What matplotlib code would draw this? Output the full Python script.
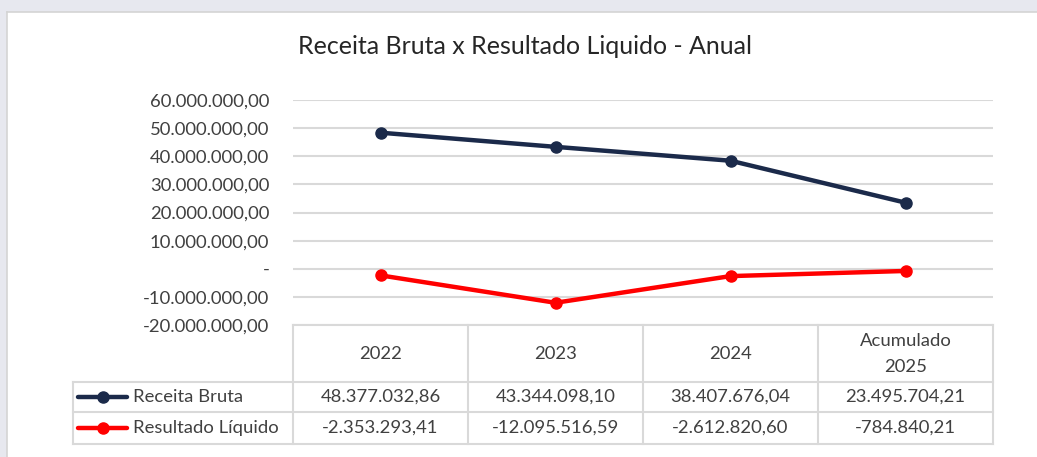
import matplotlib
matplotlib.use("Agg")
import matplotlib.pyplot as plt
from matplotlib.ticker import FuncFormatter, MultipleLocator
from matplotlib.patches import Rectangle
from matplotlib.lines import Line2D

# data
categories = ["2022", "2023", "2024", "Acumulado\n2025"]
receita_bruta = [48377032.86, 43344098.10, 38407676.04, 23495704.21]
resultado_liquido = [-2353293.41, -12095516.59, -2612820.60, -784840.21]
series_names = ["Receita Bruta", "Resultado Líquido"]

navy = "#1B2A4A"
red = "#FF0000"
grid_c = "#D9D9D9"
txt_c = "#404040"
fs = 13.3

plt.rcParams["font.family"] = ["Lato", "DejaVu Sans"]

W, H = 1037, 457
fig = plt.figure(figsize=(W / 100, H / 100), dpi=100)
fig.patch.set_facecolor("white")

# grey frame like the screenshot
fig.add_artist(Rectangle((0, 1 - 12 / H), 1, 12 / H, transform=fig.transFigure,
                         facecolor="#E7E8EF", edgecolor="none", zorder=0))
fig.add_artist(Rectangle((0, 0), 7 / W, 1, transform=fig.transFigure,
                         facecolor="#E7E8EF", edgecolor="none", zorder=0))
fig.add_artist(Line2D([7 / W, 1], [1 - 12 / H] * 2, transform=fig.transFigure,
                      color="#D4D4D4", lw=1.2))
fig.add_artist(Line2D([7 / W] * 2, [0, 1 - 12 / H], transform=fig.transFigure,
                      color="#D4D4D4", lw=1.2))


def fmt_br(v, pos=None):
    if abs(v) < 1e-6:
        return "-"
    s = f"{v:,.2f}"
    return s.replace(",", "X").replace(".", ",").replace("X", ".")


# main chart
x0, x1 = 293, 993
ax = fig.add_axes([x0 / W, 1 - 325 / H, (x1 - x0) / W, (325 - 100) / H])
xs = list(range(len(categories)))
ax.plot(xs, receita_bruta, color=navy, lw=3.2, marker="o", ms=8, zorder=3)
ax.plot(xs, resultado_liquido, color=red, lw=3.2, marker="o", ms=8, zorder=3)
ax.set_xlim(-0.5, len(categories) - 0.5)
ax.set_ylim(-20e6, 60e6)
ax.yaxis.set_major_locator(MultipleLocator(10e6))
ax.yaxis.set_major_formatter(FuncFormatter(fmt_br))
ax.grid(axis="y", color=grid_c, lw=1.5)
ax.set_axisbelow(True)
for sp in ax.spines.values():
    sp.set_visible(False)
ax.set_xticks([])
ax.tick_params(axis="y", length=0, pad=17, labelsize=fs, labelcolor=txt_c)

fig.text(525 / W, 1 - 47 / H, "Receita Bruta x Resultado Liquido - Anual",
         ha="center", va="center", fontsize=18, color="#262626")

# data table
tb = fig.add_axes([0, 0, 1, 1], facecolor="none")
tb.set_xlim(0, W)
tb.set_ylim(H, 0)
tb.axis("off")

col_edges = [293, 468, 643, 818, 993]
row_edges = [325, 382, 412, 444]
lx = 73

for xe in col_edges:
    tb.plot([xe, xe], [row_edges[0], row_edges[-1]], color=grid_c, lw=1.5)
tb.plot([lx, lx], [row_edges[1], row_edges[-1]], color=grid_c, lw=1.5)
tb.plot([col_edges[0], col_edges[-1]], [row_edges[0]] * 2, color=grid_c, lw=1.5)
for ye in row_edges[1:]:
    tb.plot([lx, col_edges[-1]], [ye, ye], color=grid_c, lw=1.5)

for i, cat in enumerate(categories):
    cx = (col_edges[i] + col_edges[i + 1]) / 2
    tb.text(cx, (row_edges[0] + row_edges[1]) / 2 + 0.5, cat, ha="center", va="center",
            fontsize=fs, color=txt_c, linespacing=1.75)

rows = [receita_bruta, resultado_liquido]
colors = [navy, red]
for r, (vals, name, c) in enumerate(zip(rows, series_names, colors)):
    cy = (row_edges[r + 1] + row_edges[r + 2]) / 2
    tb.plot([78, 127], [cy, cy], color=c, lw=3.2, solid_capstyle="round")
    tb.plot([103], [cy], marker="o", color=c, ms=8)
    tb.text(133, cy, name, ha="left", va="center", fontsize=fs, color=txt_c)
    for i, v in enumerate(vals):
        cx = (col_edges[i] + col_edges[i + 1]) / 2
        tb.text(cx, cy, fmt_br(v), ha="center", va="center", fontsize=fs, color=txt_c)

fig.savefig("out.png", dpi=100)
